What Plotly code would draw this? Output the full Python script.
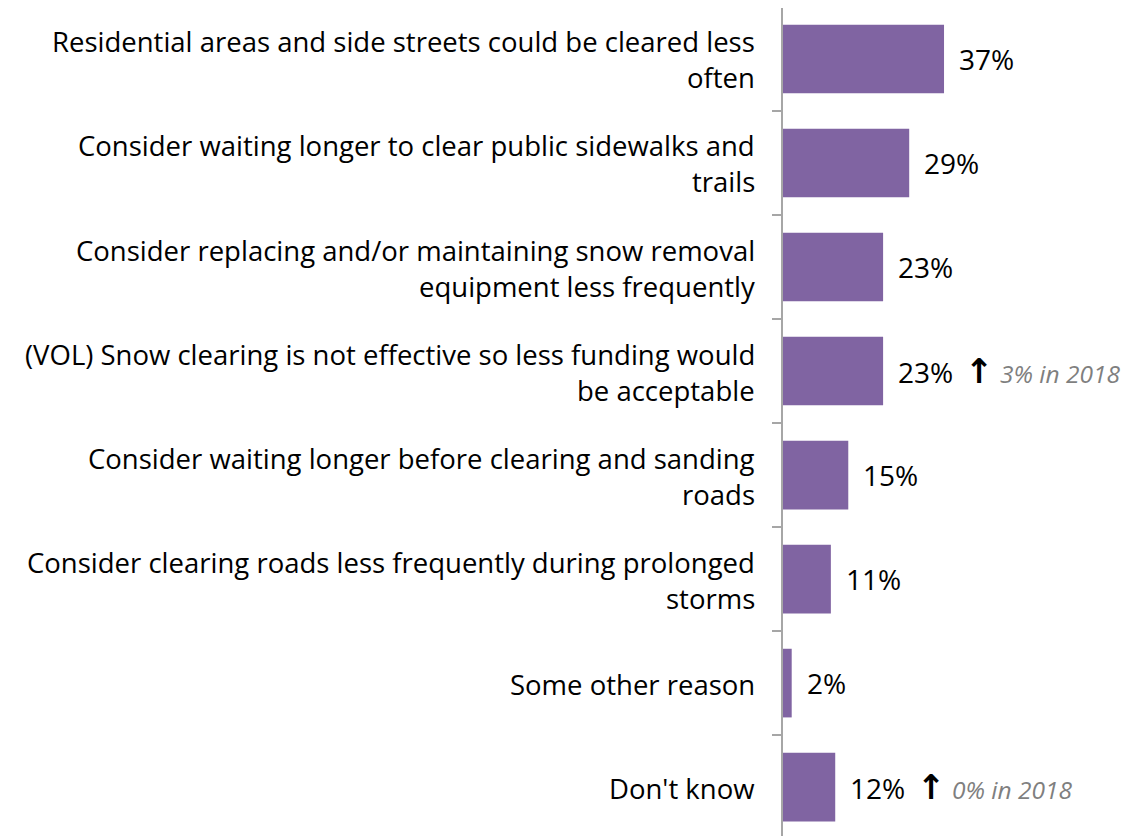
import plotly.graph_objects as go

categories = [
    "Residential areas and side streets could be cleared less\noften",
    "Consider waiting longer to clear public sidewalks and\ntrails",
    "Consider replacing and/or maintaining snow removal\nequipment less frequently",
    "(VOL) Snow clearing is not effective so less funding would\nbe acceptable",
    "Consider waiting longer before clearing and sanding\nroads",
    "Consider clearing roads less frequently during prolonged\nstorms",
    "Some other reason",
    "Don't know",
]
values = [37, 29, 23, 23, 15, 11, 2, 12]
notes = ["", "", "", "3% in 2018", "", "", "", "0% in 2018"]

BAR = "#8064A2"
AXIS = "#A6A6A6"
FONT = "Open Sans"

fig = go.Figure()
fig.add_trace(go.Bar(
    y=categories, x=values, orientation="h",
    marker=dict(color=BAR, line=dict(width=0)),
    hoverinfo="skip",
))

annotations = []
LS = 36
for i, (cat, v, note) in enumerate(zip(categories, values, notes)):
    lines = cat.split("\n")
    n = len(lines)
    for j, line in enumerate(lines):
        shift = ((n - 1) / 2 - j) * LS - 1
        annotations.append(dict(
            xref="paper", x=0, yref="y", y=i, text=line, showarrow=False,
            xanchor="right", yanchor="middle", xshift=-26, yshift=shift,
            font=dict(family=FONT, size=27.5, color="black"),
        ))
    txt = f"{v}%"
    if note:
        txt += ("\u00a0\u2009<span style='font-family:DejaVu Sans;font-weight:bold;font-size:34px'>\u2191</span>"
                f"<i><span style='color:#7F7F7F;font-size:24.5px'>\u00a0{note}</span></i>")
    annotations.append(dict(
        xref="x", x=v, yref="y", y=i, text=txt, showarrow=False,
        xanchor="left", yanchor="middle", xshift=13,
        font=dict(family=FONT, size=28, color="black"),
    ))

fig.update_layout(
    width=1121, height=828,
    margin=dict(l=775, r=0, t=0, b=0),
    paper_bgcolor="white", plot_bgcolor="white",
    bargap=0.34, showlegend=False,
    xaxis=dict(range=[0, 79.5], visible=False, fixedrange=True),
    yaxis=dict(
        type="category", categoryorder="array", categoryarray=categories,
        range=[7.47, -0.49], showticklabels=False,
        showline=True, linecolor=AXIS, linewidth=1.5,
        ticks="outside", tickson="boundaries", ticklen=9,
        tickcolor=AXIS, tickwidth=1.5, showgrid=False, zeroline=False,
    ),
    annotations=annotations,
)

fig.write_html("out.html")
